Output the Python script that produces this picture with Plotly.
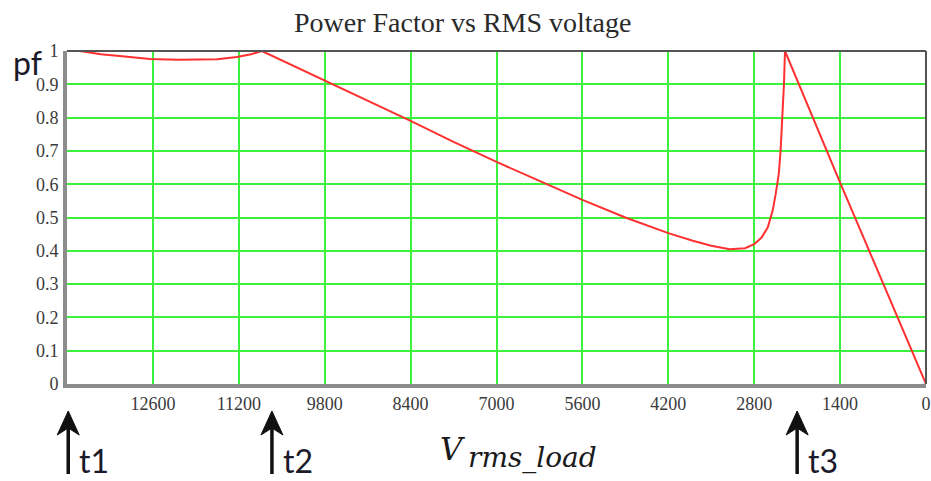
import plotly.graph_objects as go

# Load RMS voltage (V) and resulting power factor
v_rms = [13790, 13450, 13100, 12650, 12200, 11800, 11550, 11230, 11000, 10823,
         10300, 9800, 9100, 8400, 7700, 7000, 6300, 5600, 4900, 4200,
         3800, 3500, 3200, 2950, 2800, 2680, 2580, 2500, 2450, 2400,
         2370, 2340, 2315, 2298, 1400, 0]
pf = [1.0, 0.99, 0.984, 0.976, 0.974, 0.974, 0.975, 0.982, 0.99, 1.0,
      0.955, 0.91, 0.85, 0.79, 0.727, 0.667, 0.61, 0.553, 0.50, 0.453,
      0.43, 0.415, 0.405, 0.408, 0.42, 0.44, 0.47, 0.52, 0.57, 0.63,
      0.70, 0.80, 0.90, 1.0, 0.605, 0.0]

x_ticks = [12600, 11200, 9800, 8400, 7000, 5600, 4200, 2800, 1400, 0]
x_tick_text = ["12600", "11200", "9800", "8400", "7000", "5600", "4200", "2800", "1400", "0"]
y_ticks = [0, 0.1, 0.2, 0.3, 0.4, 0.5, 0.6, 0.7, 0.8, 0.9, 1.0]
y_tick_text = ["0", "0.1", "0.2", "0.3", "0.4", "0.5", "0.6", "0.7", "0.8", "0.9", "1"]

# Switching instants marked under the voltage axis
time_labels = ["t1", "t2", "t3"]
time_voltages = [13980, 10660, 2100]

V_MAX, V_MIN = 14000, 0   # reversed voltage axis: V_MAX on the left
GRID = "#3ef03e"
TICK_FONT = dict(family="Liberation Serif", size=18, color="#3a3a3a")
PX_X = 1 / 859   # one pixel in paper units, horizontally
PX_Y = 1 / 333   # one pixel in paper units, vertically

fig = go.Figure()
fig.add_trace(go.Scatter(
    x=v_rms, y=pf, mode="lines",
    line=dict(color="#ff3030", width=2),
    showlegend=False, hoverinfo="skip",
))

fig.update_layout(
    width=931, height=481,
    margin=dict(l=67, r=5, t=51, b=97, autoexpand=False),
    paper_bgcolor="white", plot_bgcolor="white",
    title=dict(text="Power Factor vs RMS voltage", x=0.497, xanchor="center",
               y=1 - 22 / 481, yanchor="middle",
               font=dict(family="Liberation Serif", size=28, color="#2a2a2a")),
)

fig.update_xaxes(
    range=[V_MAX, V_MIN], tickvals=x_ticks, ticktext=x_tick_text,
    showgrid=True, gridcolor=GRID, gridwidth=2, automargin=False,
    zeroline=False, showline=True, linecolor="#8c8c8c", linewidth=4,
    ticks="", tickfont=TICK_FONT,
)
fig.update_yaxes(
    range=[0, 1], tickvals=y_ticks, ticktext=y_tick_text,
    showgrid=True, gridcolor=GRID, gridwidth=2, automargin=False,
    zeroline=False, showline=True, linecolor="#8c8c8c", linewidth=4,
    ticks="", tickfont=TICK_FONT, ticklabelstandoff=1,
)

# Thin dark border on the top and right of the plotting area
fig.add_shape(type="line", xref="paper", yref="paper", x0=0, x1=1, y0=1, y1=1,
              line=dict(color="#555555", width=2))
fig.add_shape(type="line", xref="paper", yref="paper", x0=1, x1=1, y0=0, y1=1,
              line=dict(color="#555555", width=2))

# Axis names
fig.add_annotation(text="pf", xref="paper", yref="paper", x=-40 * PX_X, y=1 - 11 * PX_Y,
                   xanchor="center", yanchor="middle", showarrow=False,
                   font=dict(family="Lato", size=32, color="#1a1a2a"))
fig.add_annotation(text="<i>V</i>", xref="paper", yref="paper",
                   x=(467 - 67) * PX_X, y=(384 - 449) * PX_Y, borderpad=0,
                   xanchor="right", yanchor="middle", showarrow=False,
                   font=dict(family="DejaVu Serif", size=31, color="#1a1a1a"))
fig.add_annotation(text="<i>rms_load</i>", xref="paper", yref="paper",
                   x=(467 - 67) * PX_X, y=(384 - 457) * PX_Y, borderpad=0,
                   xanchor="left", yanchor="middle", showarrow=False,
                   font=dict(family="DejaVu Serif", size=28, color="#1a1a1a"))

# Upward arrows (drawn in pixels around each anchor) and their labels
head_y = (384 - 411) * PX_Y
for label, v in zip(time_labels, time_voltages):
    x_frac = (V_MAX - v) / (V_MAX - V_MIN)
    fig.add_shape(type="line", xref="paper", yref="paper",
                  xsizemode="pixel", xanchor=x_frac, ysizemode="pixel", yanchor=head_y,
                  x0=0, x1=0, y0=-63, y1=-14,
                  line=dict(color="#111111", width=3.5))
    fig.add_shape(type="path", xref="paper", yref="paper",
                  xsizemode="pixel", xanchor=x_frac, ysizemode="pixel", yanchor=head_y,
                  path="M -11,-24 L 0,0 L 11,-24 L 0,-17 Z",
                  fillcolor="#111111", line=dict(color="#111111", width=1))
    fig.add_annotation(text=label, x=x_frac, xref="paper", y=(384 - 460) * PX_Y,
                       yref="paper", xshift=9, xanchor="left", yanchor="middle",
                       showarrow=False,
                       font=dict(family="Lato", size=32, color="#1a1a2a"))

fig.write_html("out.html")
